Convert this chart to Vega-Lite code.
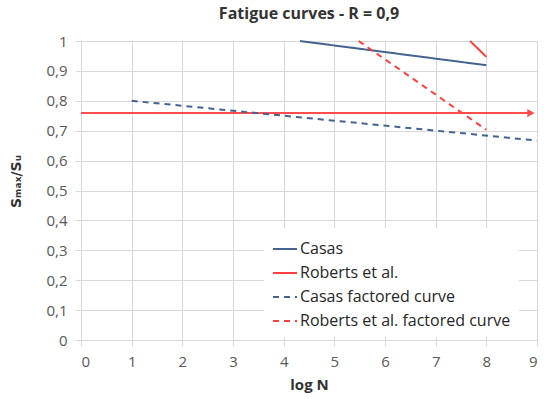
{
  "$schema": "https://vega.github.io/schema/vega-lite/v6.json",
  "width": 456,
  "height": 299,
  "autosize": "none",
  "padding": {"left": 81, "top": 41, "right": 7, "bottom": 60},
  "background": "white",
  "config": {
    "font": "Open Sans",
    "view": {"stroke": null},
    "axis": {
      "gridColor": "#d9d9d9",
      "gridWidth": 1,
      "domainColor": "#d9d9d9",
      "tickColor": "#d9d9d9",
      "tickSize": 6,
      "labelFont": "Open Sans",
      "labelFontSize": 15,
      "labelColor": "#595959",
      "labelOverlap": false,
      "titleFont": "Open Sans",
      "titleFontSize": 15,
      "titleFontWeight": "bold",
      "titleColor": "#333333"
    }
  },
  "title": {
    "text": "Fatigue curves - R = 0,9",
    "fontSize": 16,
    "fontWeight": "bold",
    "font": "Open Sans",
    "color": "#333333",
    "anchor": "middle",
    "offset": 12
  },
  "datasets": {
    "curves": [
      {"series": "Casas", "logN": 4.32, "ratio": 1.0},
      {"series": "Casas", "logN": 8, "ratio": 0.919},
      {"series": "Roberts et al.", "logN": 7.68, "ratio": 1.0},
      {"series": "Roberts et al.", "logN": 8, "ratio": 0.947},
      {"series": "Casas factored curve", "logN": 1, "ratio": 0.8},
      {"series": "Casas factored curve", "logN": 9, "ratio": 0.667},
      {"series": "Roberts et al. factored curve", "logN": 5.48, "ratio": 1.0},
      {"series": "Roberts et al. factored curve", "logN": 8, "ratio": 0.703}
    ],
    "limit": [
      {"logN": 0, "ratio": 0.759},
      {"logN": 8.9, "ratio": 0.759}
    ],
    "arrow": [
      {"logN": 8.88, "ratio": 0.759}
    ]
  },
  "encoding": {
    "x": {
      "field": "logN",
      "type": "quantitative",
      "scale": {"domain": [0, 9], "nice": false},
      "axis": {"title": "log N", "values": [0, 1, 2, 3, 4, 5, 6, 7, 8, 9], "labelPadding": 8, "titlePadding": 8}
    },
    "y": {
      "field": "ratio",
      "type": "quantitative",
      "scale": {"domain": [0, 1], "nice": false},
      "axis": {
        "title": "Sₘₐₓ/Sᵤ",
        "titleFont": "DejaVu Sans",
        "titleFontSize": 14,
        "titleY": 140,
        "values": [0, 0.1, 0.2, 0.3, 0.4, 0.5, 0.6, 0.7, 0.8, 0.9, 1],
        "labelExpr": "replace(format(datum.value, '~g'), '.', ',')",
        "labelPadding": 8,
        "titlePadding": 22,
        "domain": false
      }
    }
  },
  "layer": [
    {
      "data": {"name": "limit"},
      "mark": {"type": "line", "color": "#ff4d4d", "strokeWidth": 2}
    },
    {
      "data": {"name": "arrow"},
      "mark": {"type": "point", "shape": "triangle-right", "filled": true, "color": "#ff4d4d", "size": 70, "opacity": 1}
    },
    {
      "data": {"name": "curves"},
      "mark": {"type": "line", "strokeWidth": 2},
      "encoding": {
        "color": {
          "field": "series",
          "type": "nominal",
          "scale": {
            "domain": ["Casas", "Roberts et al.", "Casas factored curve", "Roberts et al. factored curve"],
            "range": ["#44638f", "#ff3f3f", "#44638f", "#ff3f3f"]
          },
          "legend": {
            "title": null,
            "orient": "none",
            "legendX": 183,
            "legendY": 187,
            "fillColor": "white",
            "padding": 8,
            "symbolType": "stroke",
            "symbolSize": 576,
            "symbolStrokeWidth": 2,
            "labelFont": "Open Sans",
            "labelFontSize": 16,
            "labelColor": "#262626",
            "labelOffset": 2,
            "rowPadding": 3,
            "labelLimit": 300
          }
        },
        "strokeDash": {
          "field": "series",
          "type": "nominal",
          "scale": {
            "domain": ["Casas", "Roberts et al.", "Casas factored curve", "Roberts et al. factored curve"],
            "range": [[1, 0], [1, 0], [6, 5], [6, 5]]
          },
          "legend": {
            "title": null,
            "orient": "none",
            "legendX": 183,
            "legendY": 187,
            "fillColor": "white",
            "padding": 8,
            "symbolType": "stroke",
            "symbolSize": 576,
            "symbolStrokeWidth": 2,
            "labelFont": "Open Sans",
            "labelFontSize": 16,
            "labelColor": "#262626",
            "labelOffset": 2,
            "rowPadding": 3,
            "labelLimit": 300
          }
        }
      }
    }
  ]
}
